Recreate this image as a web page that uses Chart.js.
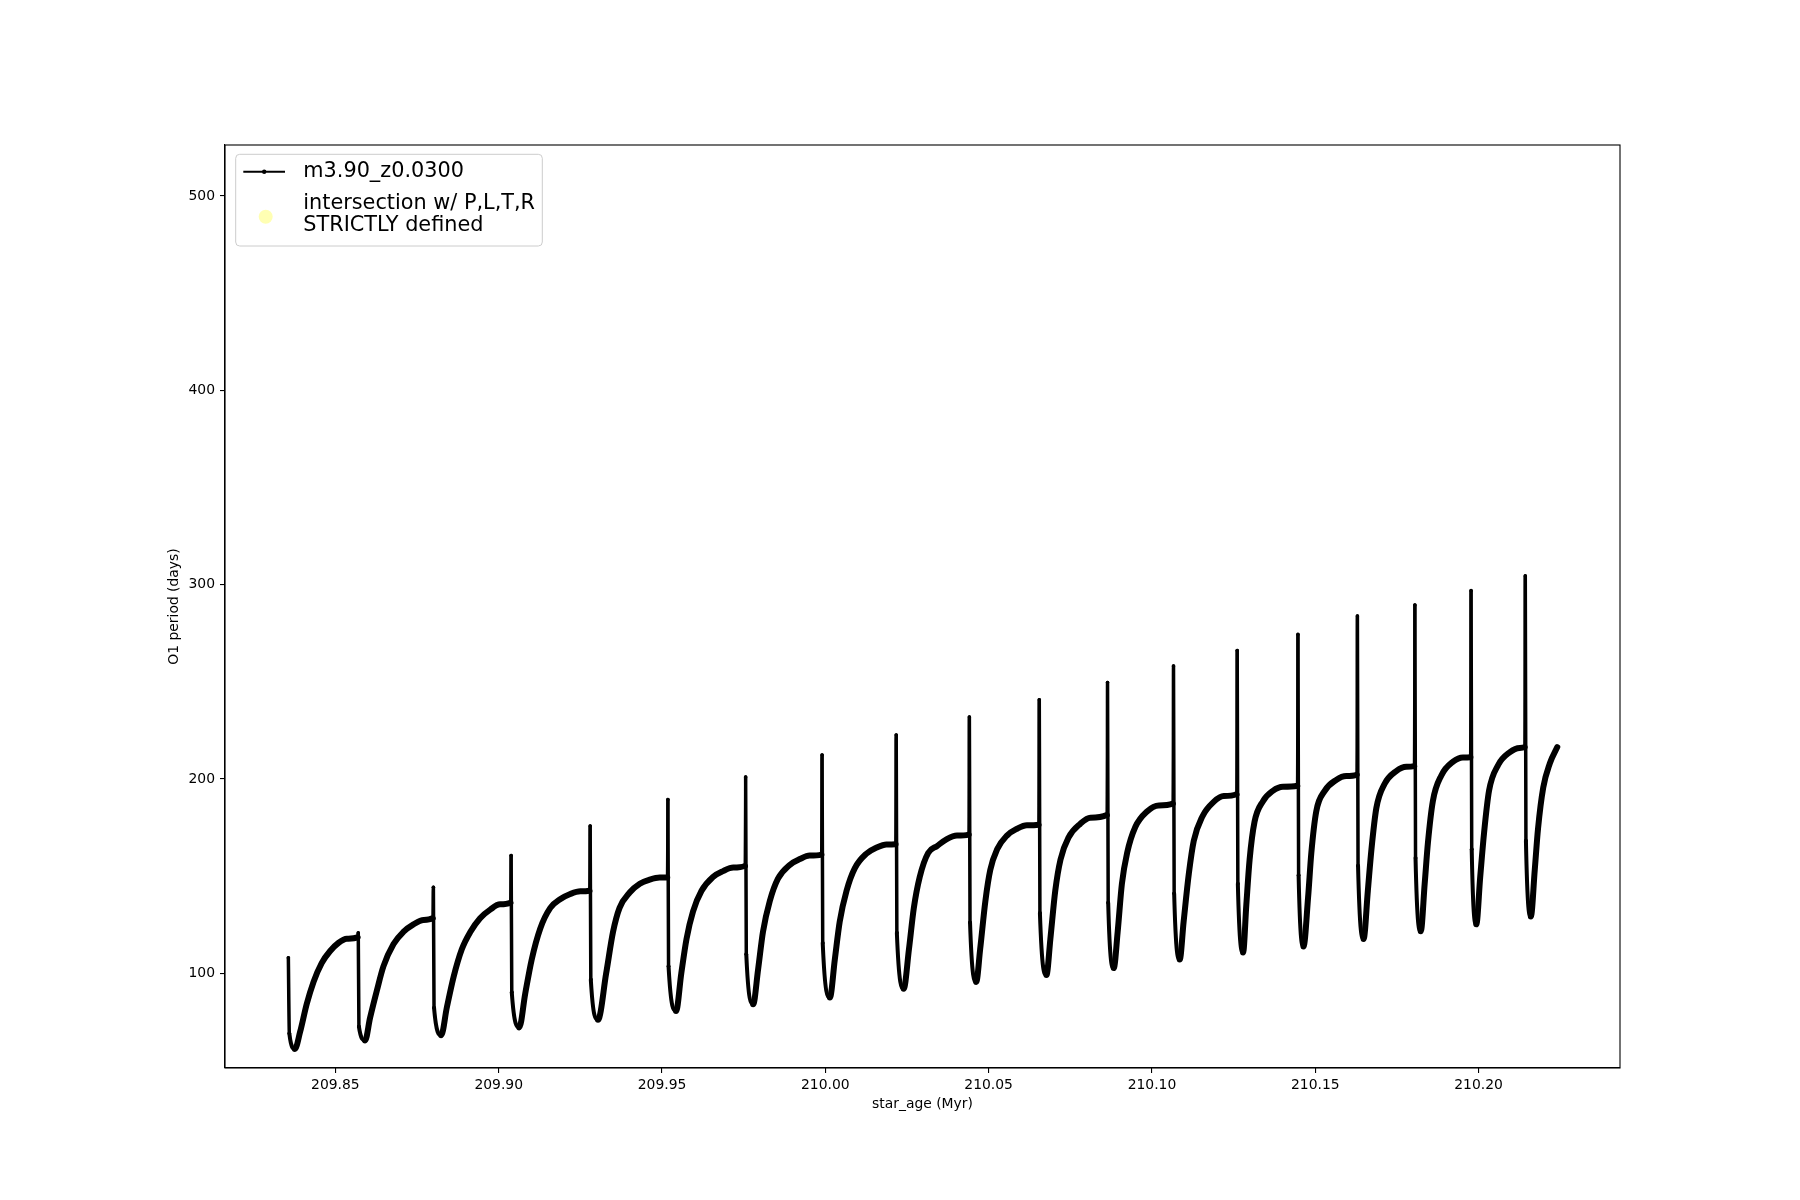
<!DOCTYPE html>
<html><head><meta charset="utf-8">
<script src="https://cdn.jsdelivr.net/npm/chart.js@4.4.0/dist/chart.umd.min.js"></script>
<style>html,body{margin:0;padding:0;background:#fff;} canvas{display:block;}</style>
</head><body>
<canvas id="c" width="1800" height="1200" style="width:1800px;height:1200px"></canvas>
<script>
// ---------------- data ----------------
const seriesLabel = 'm3.90_z0.0300';
const intersectLabel = 'intersection w/ P,L,T,R\nSTRICTLY defined';
const xTitle = 'star_age (Myr)';
const yTitle = 'O1 period (days)';

const starAge = [
  209.8356,209.8359,209.8376,209.8392,209.8412,209.8433,209.8458,209.8484,209.8509,209.8535,209.8568,
  209.8570,209.8572,209.8591,209.8606,209.8627,209.8647,209.8678,209.8708,209.8739,209.8770,209.8798,
  209.8800,209.8802,209.8824,209.8841,209.8862,209.8887,209.8913,209.8943,209.8974,209.9004,209.9036,
  209.9038,209.9040,209.9063,209.9081,209.9101,209.9127,209.9158,209.9188,209.9219,209.9250,209.9278,
  209.9280,209.9282,209.9304,209.9329,209.9350,209.9370,209.9401,209.9432,209.9462,209.9493,209.9516,
  209.9518,209.9520,209.9543,209.9559,209.9575,209.9595,209.9621,209.9656,209.9687,209.9718,209.9754,
  209.9756,209.9758,209.9779,209.9794,209.9809,209.9830,209.9855,209.9891,209.9922,209.9952,209.9988,
  209.9990,209.9992,210.0014,210.0029,210.0044,210.0065,210.0090,210.0126,210.0157,210.0187,210.0215,
  210.0217,210.0219,210.0240,210.0256,210.0271,210.0289,210.0315,210.0342,210.0372,210.0403,210.0439,
  210.0441,210.0443,210.0462,210.0474,210.0490,210.0505,210.0526,210.0556,210.0587,210.0617,210.0653,
  210.0655,210.0657,210.0677,210.0689,210.0704,210.0720,210.0745,210.0781,210.0811,210.0862,
  210.0864,210.0866,210.0883,210.0895,210.0908,210.0924,210.0949,210.0985,210.1021,210.1064,
  210.1066,210.1068,210.1085,210.1097,210.1113,210.1128,210.1154,210.1189,210.1220,210.1259,
  210.1261,210.1263,210.1279,210.1289,210.1299,210.1314,210.1340,210.1370,210.1401,210.1445,
  210.1447,210.1449,210.1464,210.1478,210.1488,210.1503,210.1529,210.1564,210.1595,210.1627,
  210.1629,210.1631,210.1648,210.1661,210.1672,210.1687,210.1712,210.1748,210.1779,210.1803,
  210.1805,210.1807,210.1823,210.1835,210.1845,210.1860,210.1886,210.1922,210.1952,210.1975,
  210.1977,210.1979,210.1993,210.2005,210.2017,210.2032,210.2060,210.2095,210.2126,210.2141,
  210.2143,210.2145,210.2160,210.2172,210.2182,210.2198,210.2218,210.2241
];
const o1Period = [
  108.0,69.0,61.1,69.9,84.1,95.6,105.3,111.5,115.6,117.8,118.6,
  120.8,72.6,65.5,77.0,91.2,103.6,115.1,121.3,125.2,127.5,128.4,
  144.3,82.3,68.2,82.3,98.3,112.4,121.3,128.4,132.8,135.5,136.3,
  160.6,90.3,72.2,89.4,107.1,123.0,133.7,138.1,140.8,142.2,142.5,
  175.8,96.8,76.1,100.0,121.3,133.7,141.6,146.1,148.2,149.3,149.3,
  189.4,103.6,80.6,100.0,117.7,131.9,142.5,149.6,152.6,154.4,155.3,
  201.0,109.8,84.1,101.8,121.3,137.2,148.7,155.8,158.8,160.6,161.1,
  212.3,115.6,87.6,107.1,126.6,142.5,154.0,161.6,164.7,166.3,166.4,
  222.6,120.9,92.1,112.4,133.7,149.6,162.0,165.5,169.1,170.9,171.4,
  231.9,126.2,95.6,112.4,137.2,153.2,163.8,170.9,174.4,176.2,176.5,
  240.8,131.0,99.1,117.7,142.5,158.5,170.0,177.0,180.1,181.5,
  249.6,136.3,102.7,121.3,146.1,162.0,175.3,183.3,186.4,187.3,
  258.1,141.1,107.1,126.6,151.4,168.2,180.6,188.2,191.2,192.1,
  266.1,146.1,110.7,135.4,158.5,177.9,188.6,193.9,196.0,196.5,
  274.4,150.5,113.8,139.0,162.0,183.3,193.9,199.5,201.5,202.2,
  283.8,155.3,117.7,142.5,163.8,185.0,197.4,204.1,206.3,206.6,
  289.5,159.3,121.6,146.1,167.3,188.6,201.8,208.9,211.1,211.2,
  296.9,163.8,125.2,149.6,172.6,193.9,207.2,213.7,216.0,216.4,
  304.5,168.2,129.2,153.2,174.4,195.6,208.0,216.4
];
// no intersection points are visible in the plot
const intersectAge = [];
const intersectPeriod = [];

const xTicks = [209.85, 209.90, 209.95, 210.00, 210.05, 210.10, 210.15, 210.20];
const yTicks = [100, 200, 300, 400, 500];
const xLimits = [209.8162, 210.2433];
const yLimits = [51.3, 526.2];

// ---------------- chart ----------------
const FONT = '"DejaVu Sans", "Liberation Sans", sans-serif';

const frameAndTitles = {
  id: 'frameAndTitles',
  afterDatasetsDraw(chart) {
    const {ctx, chartArea: a} = chart;
    ctx.save();
    ctx.strokeStyle = '#000';
    ctx.lineWidth = 1.1;
    ctx.strokeRect(a.left, a.top, a.right - a.left, a.bottom - a.top);
    ctx.fillStyle = '#000';
    ctx.font = '13.9px ' + FONT;
    ctx.textAlign = 'center';
    ctx.textBaseline = 'middle';
    ctx.fillText(xTitle, (a.left + a.right) / 2, 1104);
    ctx.translate(174.5, (a.top + a.bottom) / 2);
    ctx.rotate(-Math.PI / 2);
    ctx.fillText(yTitle, 0, 0);
    ctx.restore();
  },
  afterDraw(chart) {
    const {ctx} = chart;
    const ds = chart.data.datasets;
    ctx.save();
    const bx = 235.7, by = 154.3, bw = 306.6, bh = 91.7, r = 4;
    ctx.beginPath();
    ctx.moveTo(bx + r, by);
    ctx.arcTo(bx + bw, by, bx + bw, by + bh, r);
    ctx.arcTo(bx + bw, by + bh, bx, by + bh, r);
    ctx.arcTo(bx, by + bh, bx, by, r);
    ctx.arcTo(bx, by, bx + bw, by, r);
    ctx.closePath();
    ctx.fillStyle = 'rgba(255,255,255,0.8)';
    ctx.fill();
    ctx.strokeStyle = '#cccccc';
    ctx.lineWidth = 1;
    ctx.stroke();
    ctx.strokeStyle = '#000';
    ctx.lineWidth = 2.1;
    ctx.beginPath();
    ctx.moveTo(243.3, 171.7);
    ctx.lineTo(285, 171.7);
    ctx.stroke();
    ctx.fillStyle = '#000';
    ctx.beginPath();
    ctx.arc(264.2, 171.7, 2.2, 0, Math.PI * 2);
    ctx.fill();
    ctx.font = '20.8px ' + FONT;
    ctx.textAlign = 'left';
    ctx.textBaseline = 'middle';
    ctx.fillText(ds[0].label, 303.3, 172);
    ctx.fillStyle = '#ffffb3';
    ctx.beginPath();
    ctx.arc(265.7, 216.7, 7, 0, Math.PI * 2);
    ctx.fill();
    ctx.fillStyle = '#000';
    const lines = ds[1].label.split('\n');
    ctx.fillText(lines[0], 303.3, 203.5);
    ctx.fillText(lines[1], 303.3, 225.5);
    ctx.restore();
  }
};

const seriesData = starAge.map((x, i) => ({x: x, y: o1Period[i]}));
const intersectData = intersectAge.map((x, i) => ({x: x, y: intersectPeriod[i]}));

function isPeak(i) {
  const n = o1Period.length;
  if (i <= 0 || i >= n - 1) return i === 0;
  return o1Period[i] > o1Period[i - 1] && o1Period[i] > o1Period[i + 1];
}

new Chart(document.getElementById('c'), {
  type: 'line',
  data: {
    datasets: [
      {
        label: seriesLabel,
        data: seriesData,
        borderColor: '#000',
        backgroundColor: '#000',
        pointRadius: 1.8,
        pointBorderWidth: 0,
        pointBackgroundColor: '#000',
        borderJoinStyle: 'round',
        borderCapStyle: 'round',
        cubicInterpolationMode: 'monotone',
        borderWidth: 6,
        segment: {
          borderWidth: (c) => {
            const i0 = c.p0DataIndex, i1 = c.p1DataIndex;
            if (isPeak(i1)) return 3;          // rise into the spike
            if (isPeak(i0)) return 3.5;        // fall from the spike top
            if (o1Period[i1] < o1Period[i0]) return 4; // drop to the minimum
            return 6;
          }
        }
      },
      {
        label: intersectLabel,
        data: intersectData,
        showLine: false,
        pointRadius: 7,
        pointBackgroundColor: '#ffffb3',
        pointBorderWidth: 0,
        borderColor: '#ffffb3',
        backgroundColor: '#ffffb3'
      }
    ]
  },
  options: {
    responsive: false,
    animation: false,
    devicePixelRatio: 1,
    layout: {padding: {left: 0, right: 180, top: 145, bottom: 0}},
    plugins: {legend: {display: false}, tooltip: {enabled: false}},
    scales: {
      x: {
        type: 'linear',
        min: xLimits[0],
        max: xLimits[1],
        afterBuildTicks: (s) => { s.ticks = xTicks.map(v => ({value: v})); },
        afterFit: (s) => { s.height = 132; },
        grid: {display: true, drawOnChartArea: false, drawTicks: true, tickLength: 5, color: '#000', lineWidth: 1.1},
        border: {display: true, color: '#000', width: 1.1},
        ticks: {color: '#000', font: {family: FONT, size: 13.9}, padding: 4, maxRotation: 0, autoSkip: false,
                callback: (v) => Number(v).toFixed(2)}
      },
      y: {
        type: 'linear',
        min: yLimits[0],
        max: yLimits[1],
        afterBuildTicks: (s) => { s.ticks = yTicks.map(v => ({value: v})); },
        afterFit: (s) => { s.width = 225; },
        grid: {display: true, drawOnChartArea: false, drawTicks: true, tickLength: 5, color: '#000', lineWidth: 1.1},
        border: {display: true, color: '#000', width: 1.1},
        ticks: {color: '#000', font: {family: FONT, size: 13.9}, padding: 5, autoSkip: false,
                callback: (v) => String(v)}
      }
    }
  },
  plugins: [frameAndTitles]
});
</script>
</body></html>
